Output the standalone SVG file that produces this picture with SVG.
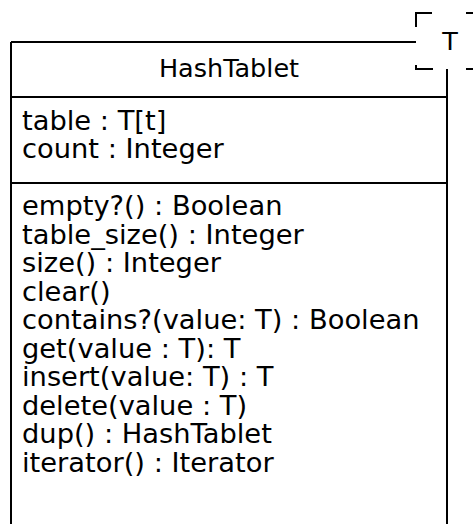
<svg xmlns="http://www.w3.org/2000/svg" width="473" height="524" viewBox="0 0 473 524">
<style>
  .line { stroke: #000; stroke-width: 2; fill: none; }
  .txt { font-family: "DejaVu Sans", Verdana, sans-serif; font-size: 27.3px; fill: #000; }
  .title { font-family: "DejaVu Sans", Verdana, sans-serif; font-size: 25.5px; fill: #000; text-anchor: middle; }
</style>
<rect width="473" height="524" fill="#fff"/>
<g id="HashTablet">
  <path class="line" d="M11,42 H416 M11,42 V530 M447,69 V530 M11,97 H447 M11,183 H447"/>
  <text class="title" x="229" y="77">HashTablet</text>
  <text class="txt" x="22" y="130">table : T[t]</text>
  <text class="txt" x="22" y="158">count : Integer</text>
  <text class="txt" x="22" y="215">empty?() : Boolean</text>
  <text class="txt" x="22" y="243.5">table_size() : Integer</text>
  <text class="txt" x="22" y="272">size() : Integer</text>
  <text class="txt" x="22" y="300.5">clear()</text>
  <text class="txt" x="22" y="329">contains?(value: T) : Boolean</text>
  <text class="txt" x="22" y="357.5">get(value : T): T</text>
  <text class="txt" x="22" y="386">insert(value: T) : T</text>
  <text class="txt" x="22" y="414.5">delete(value : T)</text>
  <text class="txt" x="22" y="443">dup() : HashTablet</text>
  <text class="txt" x="22" y="471.5">iterator() : Iterator</text>
</g>
<g id="template-T">
  <rect x="416" y="13" width="64" height="56" fill="#fff" stroke="none"/>
  <path class="line" d="M416,27 V13 H432 M466,13 H480 M416,65 V69 H433 M466,69 H480"/>
  <text class="title" x="450" y="50">T</text>
</g>
</svg>
